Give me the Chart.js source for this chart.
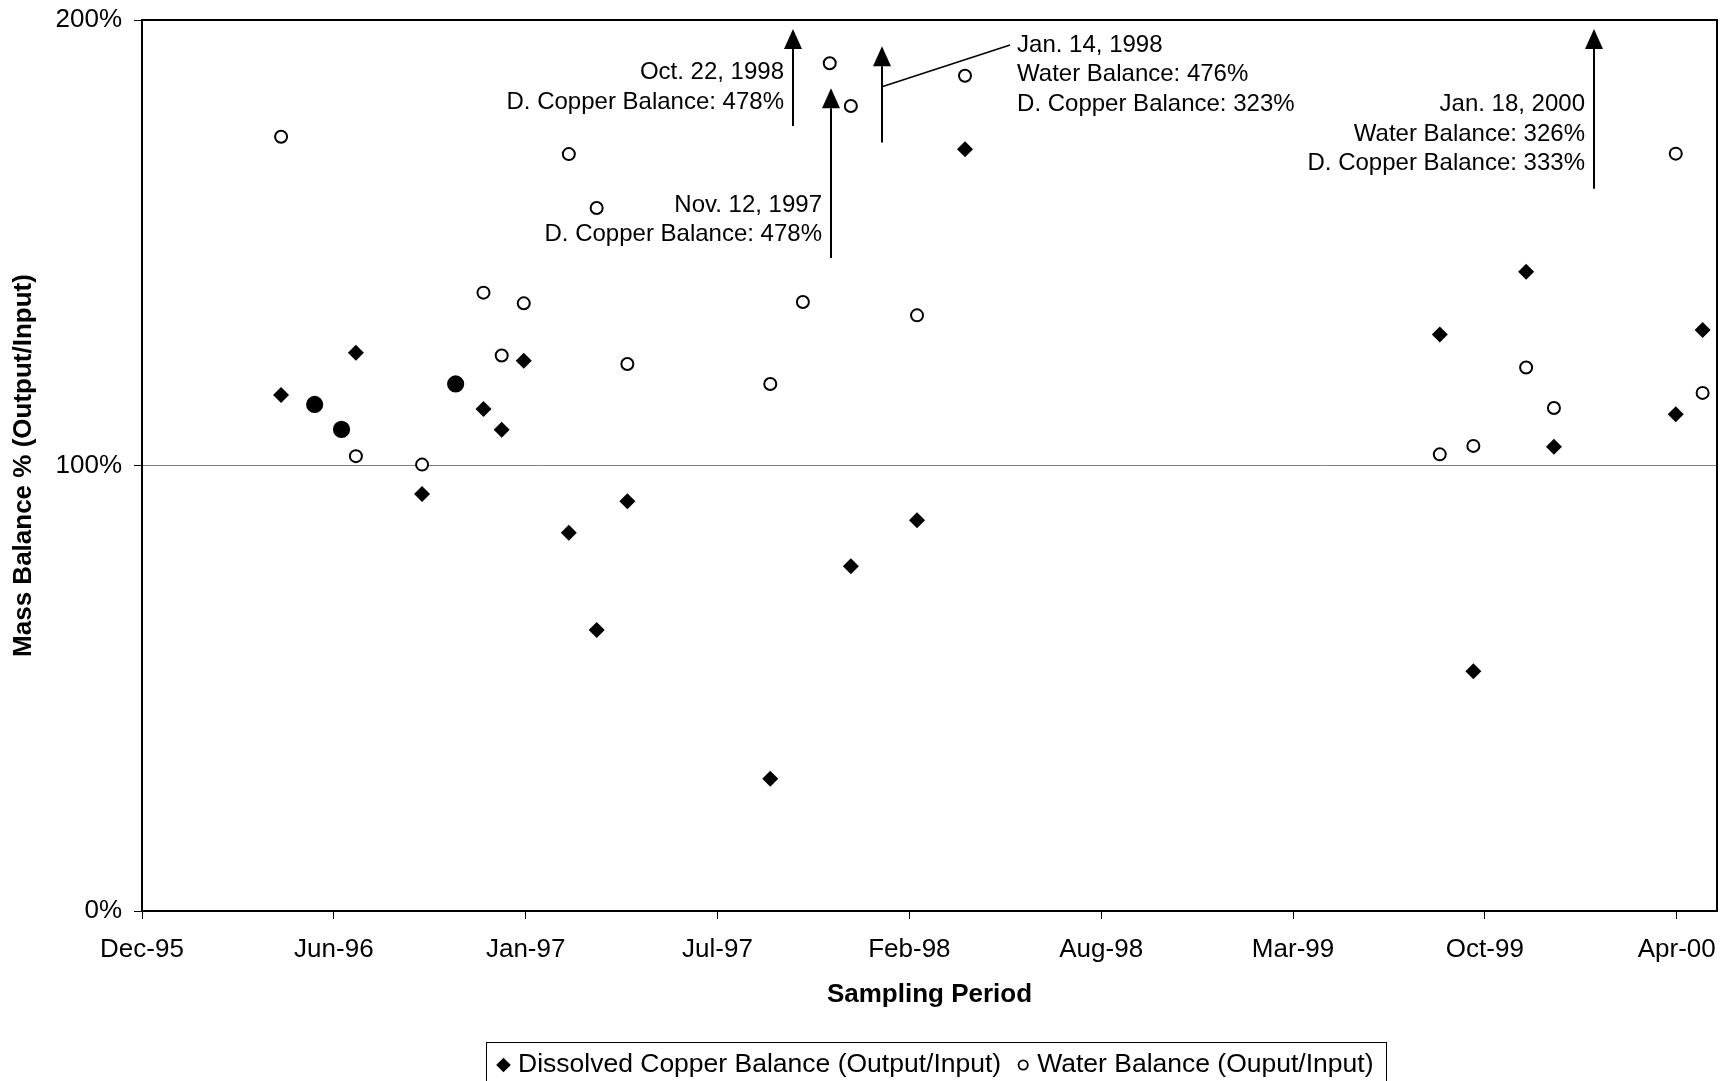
<!DOCTYPE html>
<html>
<head>
<meta charset="utf-8">
<title>Mass Balance</title>
<script src="https://cdn.jsdelivr.net/npm/chart.js@4.4.1/dist/chart.umd.min.js"></script>
<style>
  html, body { margin: 0; padding: 0; background: #fff; }
</style>
</head>
<body>
<canvas id="massChart" width="1729" height="1081"></canvas>
<script>
// Sampling dates and balances (output/input, %)
const copperDates = [
  "1996-04-26", "1996-05-31", "1996-06-28", "1996-07-13", "1996-09-20", "1996-10-25",
  "1996-11-23", "1996-12-12", "1997-01-04", "1997-02-20", "1997-03-21", "1997-04-22",
  "1997-09-18", "1997-12-11", "1998-02-18", "1998-04-09", "1999-08-17", "1999-09-21",
  "1999-11-15", "1999-12-14", "2000-04-19", "2000-05-17"
];
const copperValues = [
  115.8, 113.7, 108.1, 125.3, 93.6, 118.3,
  112.7, 108.0, 123.5, 84.9, 63.1, 92.0,
  29.7, 77.4, 87.7, 171.0, 129.4, 53.8,
  143.5, 104.2, 111.5, 130.4
];

const waterDates = [
  "1996-04-26", "1996-05-31", "1996-06-28", "1996-07-13", "1996-09-20", "1996-10-25",
  "1996-11-23", "1996-12-12", "1997-01-04", "1997-02-20", "1997-03-21", "1997-04-22",
  "1997-09-18", "1997-10-22", "1997-11-19", "1997-12-11", "1998-02-18", "1998-04-09",
  "1999-08-17", "1999-09-21", "1999-11-15", "1999-12-14", "2000-04-19", "2000-05-17"
];
const waterValues = [
  173.8, 113.7, 108.1, 102.1, 100.2, 118.3,
  138.8, 124.7, 136.4, 169.9, 157.8, 122.8,
  118.3, 136.7, 190.3, 180.7, 133.7, 187.5,
  102.5, 104.4, 122.0, 112.9, 170.0, 116.3
];

const xTickLabels = ["Dec-95", "Jun-96", "Jan-97", "Jul-97", "Feb-98", "Aug-98", "Mar-99", "Oct-99", "Apr-00"];
const yTickValues = [0, 100, 200];
const yTickLabels = ["0%", "100%", "200%"];

// Off-scale samples are marked with an arrow and a note
const noteTexts = [
  ["Oct. 22, 1998", "D. Copper Balance: 478%"],
  ["Nov. 12, 1997", "D. Copper Balance: 478%"],
  ["Jan. 14, 1998", "Water Balance: 476%", "D. Copper Balance: 323%"],
  ["Jan. 18, 2000", "Water Balance: 326%", "D. Copper Balance: 333%"]
];
const noteArrowDates = ["1997-10-12", "1997-11-20", "1998-01-13", "2000-01-25"];

// placement of the arrows and notes (in axis units)
const notePlacement = [
  { from: 176.2, to: 198, textAt: 188.2, side: "left" },
  { from: 146.6, to: 184.7, textAt: 158.5, side: "left" },
  { from: 172.5, to: 194.1, textAt: 194.4, side: "leader", leaderFrom: 185, leaderDate: "1998-05-26" },
  { from: 162.1, to: 198, textAt: 181.0, side: "left" }
];

const FONT = "'Liberation Sans', Arial, Helvetica, sans-serif";
const DAY = 86400000;
const toDay = (s) => Date.parse(s + "T00:00:00Z") / DAY;

const xStart = toDay("1995-12-03");
const xStep = 200;
const xEnd = xStart + 1642;

const copperPoints = copperDates.map((d, i) => ({ x: toDay(d), y: copperValues[i] }));
const waterPoints = waterDates.map((d, i) => ({ x: toDay(d), y: waterValues[i] }));

// where both balances sit on the same spot the marker shows as a solid dot
function sharesSpot(ctx) {
  const p = ctx.raw;
  if (!p) return false;
  return copperPoints.some((c) => c.x === p.x && Math.abs(c.y - p.y) < 1);
}

// Top and right frame of the plot area
const frame = {
  id: "frame",
  afterDatasetsDraw(chart) {
    const { ctx, chartArea: a } = chart;
    ctx.save();
    ctx.strokeStyle = "#000";
    ctx.lineWidth = 2;
    ctx.beginPath();
    ctx.moveTo(a.left, a.top);
    ctx.lineTo(a.right, a.top);
    ctx.lineTo(a.right, a.bottom);
    ctx.stroke();
    ctx.restore();
  }
};

// Arrows and notes for the off-scale samples
const notes = {
  id: "notes",
  afterDraw(chart) {
    const { ctx, scales: { x, y } } = chart;
    const headW = 18, headH = 20, lineGap = 29.5;
    ctx.save();
    ctx.strokeStyle = "#000";
    ctx.fillStyle = "#000";
    ctx.lineWidth = 2;
    ctx.font = "24px " + FONT;
    ctx.textBaseline = "middle";

    noteTexts.forEach((lines, i) => {
      const p = notePlacement[i];
      const ax = Math.round(x.getPixelForValue(toDay(noteArrowDates[i])));
      const yTail = y.getPixelForValue(p.from);
      const yTip = y.getPixelForValue(p.to);

      ctx.beginPath();
      ctx.moveTo(ax, yTail);
      ctx.lineTo(ax, yTip + headH);
      ctx.stroke();
      ctx.beginPath();
      ctx.moveTo(ax, yTip);
      ctx.lineTo(ax - headW / 2, yTip + headH);
      ctx.lineTo(ax + headW / 2, yTip + headH);
      ctx.closePath();
      ctx.fill();

      const ty = y.getPixelForValue(p.textAt);
      let tx;
      if (p.side === "leader") {
        const lx = x.getPixelForValue(toDay(p.leaderDate));
        ctx.lineWidth = 1.5;
        ctx.beginPath();
        ctx.moveTo(ax, y.getPixelForValue(p.leaderFrom));
        ctx.lineTo(lx, ty);
        ctx.stroke();
        ctx.lineWidth = 2;
        ctx.textAlign = "left";
        tx = lx + 7;
      } else {
        ctx.textAlign = "right";
        tx = ax - 9;
      }
      lines.forEach((t, k) => ctx.fillText(t, tx, ty + k * lineGap));
    });
    ctx.restore();
  }
};

// Boxed legend under the axis title
const boxLegend = {
  id: "boxLegend",
  afterDraw(chart) {
    const { ctx } = chart;
    const box = { left: 486.5, right: 1386.5, top: 1042.5, bottom: 1090 };
    const cy = 1065;
    const ds = chart.data.datasets;
    ctx.save();
    ctx.strokeStyle = "#000";
    ctx.lineWidth = 1;
    ctx.strokeRect(box.left, box.top, box.right - box.left, box.bottom - box.top);

    ctx.font = "26.5px " + FONT;
    ctx.textBaseline = "middle";

    // copper item
    ctx.fillStyle = "#000";
    Chart.helpers.drawPoint(ctx, { pointStyle: "rectRot", radius: 7.3, borderWidth: 0, rotation: 0 }, 503.5, cy);
    ctx.textAlign = "left";
    ctx.fillText(ds[0].label, 518, cy);

    // water item
    ctx.textAlign = "right";
    const endX = box.right - 13;
    ctx.fillText(ds[1].label, endX, cy);
    const startX = endX - ctx.measureText(ds[1].label).width;
    ctx.fillStyle = "#fff";
    ctx.strokeStyle = "#000";
    ctx.lineWidth = 1.8;
    Chart.helpers.drawPoint(ctx, { pointStyle: "circle", radius: 4.6, borderWidth: 1.8, rotation: 0 }, startX - 14, cy);
    ctx.restore();
  }
};

const tickFont = { family: FONT, size: 26 };
const titleFont = { family: FONT, size: 26, weight: "bold" };

new Chart(document.getElementById("massChart"), {
  type: "scatter",
  data: {
    datasets: [
      {
        label: "Dissolved Copper Balance (Output/Input)",
        data: copperPoints,
        pointStyle: "rectRot",
        pointRadius: 8,
        pointHoverRadius: 8,
        pointBackgroundColor: "#000",
        pointBorderColor: "#000",
        pointBorderWidth: 0
      },
      {
        label: "Water Balance (Ouput/Input)",
        data: waterPoints,
        pointStyle: "circle",
        pointRadius: (ctx) => (sharesSpot(ctx) ? 7.6 : 6),
        pointHoverRadius: (ctx) => (sharesSpot(ctx) ? 7.6 : 6),
        pointBackgroundColor: (ctx) => (sharesSpot(ctx) ? "#000" : "#fff"),
        pointBorderColor: "#000",
        pointBorderWidth: 2
      }
    ]
  },
  options: {
    responsive: false,
    animation: false,
    events: [],
    layout: { padding: { top: 20, right: 12, left: 0, bottom: 0 } },
    plugins: {
      legend: { display: false },
      tooltip: { enabled: false }
    },
    scales: {
      x: {
        type: "linear",
        min: xStart,
        max: xEnd,
        afterBuildTicks: (scale) => {
          scale.ticks = xTickLabels.map((_, i) => ({ value: xStart + i * xStep }));
        },
        afterFit: (scale) => {
          scale.height = 170;
          scale.paddingRight = 0;
        },
        ticks: {
          callback: (value, index) => xTickLabels[index],
          autoSkip: false,
          maxRotation: 0,
          padding: 15,
          color: "#000",
          font: tickFont
        },
        grid: { drawOnChartArea: false, tickLength: 8, tickColor: "#000", tickWidth: 1 },
        border: { color: "#000", width: 2 },
        title: {
          display: true,
          text: "Sampling Period",
          color: "#000",
          font: titleFont,
          padding: { top: 0, bottom: 71 }
        }
      },
      y: {
        min: 0,
        max: 200,
        afterBuildTicks: (scale) => {
          scale.ticks = yTickValues.map((v) => ({ value: v }));
        },
        afterFit: (scale) => {
          scale.width = 142;
          scale.paddingTop = 0;
          scale.paddingBottom = 0;
        },
        ticks: {
          callback: (value, index) => yTickLabels[index],
          padding: 12,
          color: "#000",
          font: tickFont
        },
        grid: { color: "#808080", lineWidth: 1, tickLength: 8, tickColor: "#000", tickWidth: 1 },
        border: { color: "#000", width: 2 },
        title: {
          display: true,
          text: "Mass Balance % (Output/Input)",
          color: "#000",
          font: titleFont,
          padding: { top: 8.7, bottom: 0 }
        }
      }
    }
  },
  plugins: [frame, notes, boxLegend]
});
</script>
</body>
</html>
